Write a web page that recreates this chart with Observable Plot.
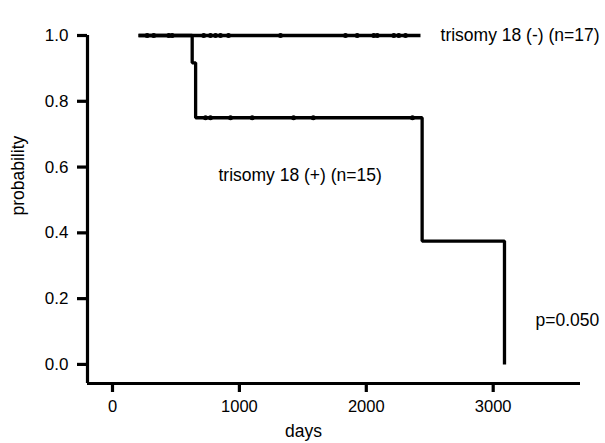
<!DOCTYPE html>
<html>
<head>
<meta charset="utf-8">
<script src="https://cdn.jsdelivr.net/npm/d3@7"></script>
<script src="https://cdn.jsdelivr.net/npm/@observablehq/plot@0.6"></script>
<style>
  html, body { margin: 0; padding: 0; background: #fff; }
  svg { font-family: "Liberation Sans", Arial, sans-serif; }
</style>
</head>
<body>
<div id="chart"></div>
<script>
// Kaplan-Meier step points (days, probability)
const negDays = [205, 2427];
const negProb = [1.0, 1.0];
const posDays = [205, 628, 655, 2440, 3089];
const posProb = [1.0, 0.917, 0.75, 0.375, 0.0];
// censor marks
const negCensor = [273, 325, 444, 470, 719, 772, 812, 851, 914, 1324, 1836, 1928, 2059, 2086, 2217, 2256, 2309];
const posCensor = [733, 772, 930, 1101, 1427, 1582, 2364];
const posCensorProb = 0.75;
// ticks
const xTicks = [0, 1000, 2000, 3000];
const yTicks = [0, 0.2, 0.4, 0.6, 0.8, 1.0];
const xDomain = [-197, 3688];
const yDomain = [-0.058, 1.0];
// annotations
const labels = [
  {x: 2585, y: 1.0, text: "trisomy 18 (-) (n=17)"},
  {x: 835, y: 0.574, text: "trisomy 18 (+) (n=15)"},
  {x: 3333, y: 0.134, text: "p=0.050"}
];

const negLine = negDays.map((d, i) => ({d, p: negProb[i]}));
const posLine = posDays.map((d, i) => ({d, p: posProb[i]}));
const negMarks = negCensor.map(d => ({d, p: 1.0}));
const posMarks = posCensor.map(d => ({d, p: posCensorProb}));

const FS = 17.5;
const chart = Plot.plot({
  width: 605,
  height: 443,
  marginLeft: 87,
  marginRight: 25,
  marginTop: 35,
  marginBottom: 60,
  x: {domain: xDomain},
  y: {domain: yDomain},
  style: {fontFamily: "Liberation Sans, Arial, sans-serif", fontSize: FS + "px", color: "#000", background: "#fff", overflow: "visible"},
  marks: [
    Plot.ruleX([xDomain[0]], {y1: yDomain[0], y2: yDomain[1], strokeWidth: 3.2, stroke: "#000"}),
    Plot.ruleY([yDomain[0]], {x1: xDomain[0], x2: xDomain[1], strokeWidth: 3.2, stroke: "#000"}),
    Plot.axisX({ticks: xTicks, tickSize: 9, strokeWidth: 3.2, tickPadding: 8, fontSize: 16.5, label: null, tickFormat: d => String(d)}),
    Plot.axisY({ticks: yTicks, tickSize: 10, strokeWidth: 3.2, tickPadding: 9, fontSize: 17, label: null, tickFormat: d3.format(".1f")}),
    Plot.line(negLine, {x: "d", y: "p", curve: "step-after", stroke: "#000", strokeWidth: 3.3, strokeLinejoin: "miter", strokeLinecap: "butt"}),
    Plot.line(posLine, {x: "d", y: "p", curve: "step-after", stroke: "#000", strokeWidth: 3.3, strokeLinejoin: "miter", strokeLinecap: "butt"}),
    Plot.dot(negMarks, {x: "d", y: "p", r: 2.5, fill: "#000"}),
    Plot.dot(posMarks, {x: "d", y: "p", r: 2.5, fill: "#000"}),
    Plot.text(labels, {x: "x", y: "y", text: "text", textAnchor: "start", fontSize: FS, fill: "#000"}),
    Plot.text(["days"], {x: 1505, y: yDomain[0], dy: 48, fontSize: FS, fill: "#000"}),
    Plot.text(["probability"], {x: xDomain[0], y: 0.574, dx: -69, rotate: -90, fontSize: FS, fill: "#000"})
  ]
});
document.getElementById("chart").appendChild(chart);
</script>
</body>
</html>
